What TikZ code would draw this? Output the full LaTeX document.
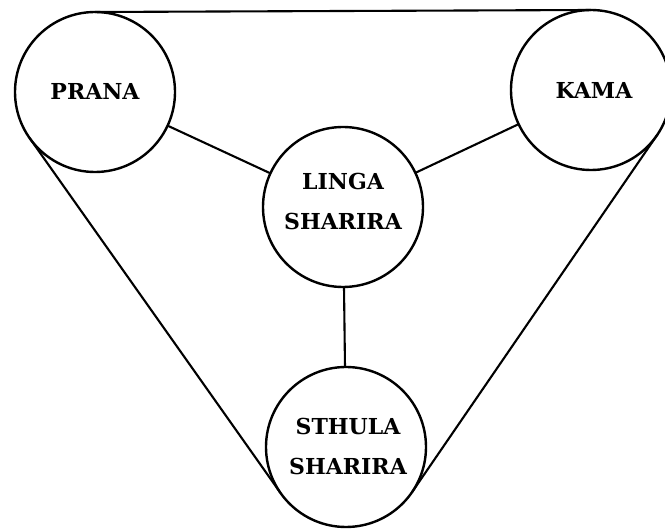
\documentclass[tikz,border=0pt]{standalone}
\usepackage{fontspec}
\setmainfont{DejaVu Serif}
\begin{document}
\begin{tikzpicture}[x=1pt,y=-1pt,
  body/.style={circle,draw,line width=2.4pt,minimum size=160pt,inner sep=0pt,outer sep=0pt},
  label/.style={font=\fontsize{22}{40}\selectfont\bfseries,align=center,inner sep=0pt},
  link/.style={line width=2.1pt}]
  \useasboundingbox (0,0) rectangle (665,529);
  % the four bodies
  \node[body] (prana)  at (95,92)   {};
  \node[body] (kama)   at (591,90)  {};
  \node[body] (linga)  at (343,207) {};
  \node[body] (sthula) at (346,447) {};
  % their names
  \node[label] (pranaT)  at ([yshift=1pt]prana)   {PRANA};
  \node[label] (kamaT)   at ([xshift=3pt,yshift=0pt]kama) {KAMA};
  \node[label] (lingaT)  at ([yshift=6pt]linga)   {LINGA\\SHARIRA};
  \node[label] (sthulaT) at ([xshift=2pt,yshift=1pt]sthula) {STHULA\\SHARIRA};
  % outer tangent envelope
  \draw[link] (prana.north) -- (kama.north);
  \draw[link] (prana.215.3) -- (sthula.215.3);
  \draw[link] (kama.-34.5) -- (sthula.-34.5);
  % spokes to the centre
  \draw[link] (prana) -- (linga);
  \draw[link] (kama) -- (linga);
  \draw[link] (linga) -- (sthula);
\end{tikzpicture}
\end{document}
